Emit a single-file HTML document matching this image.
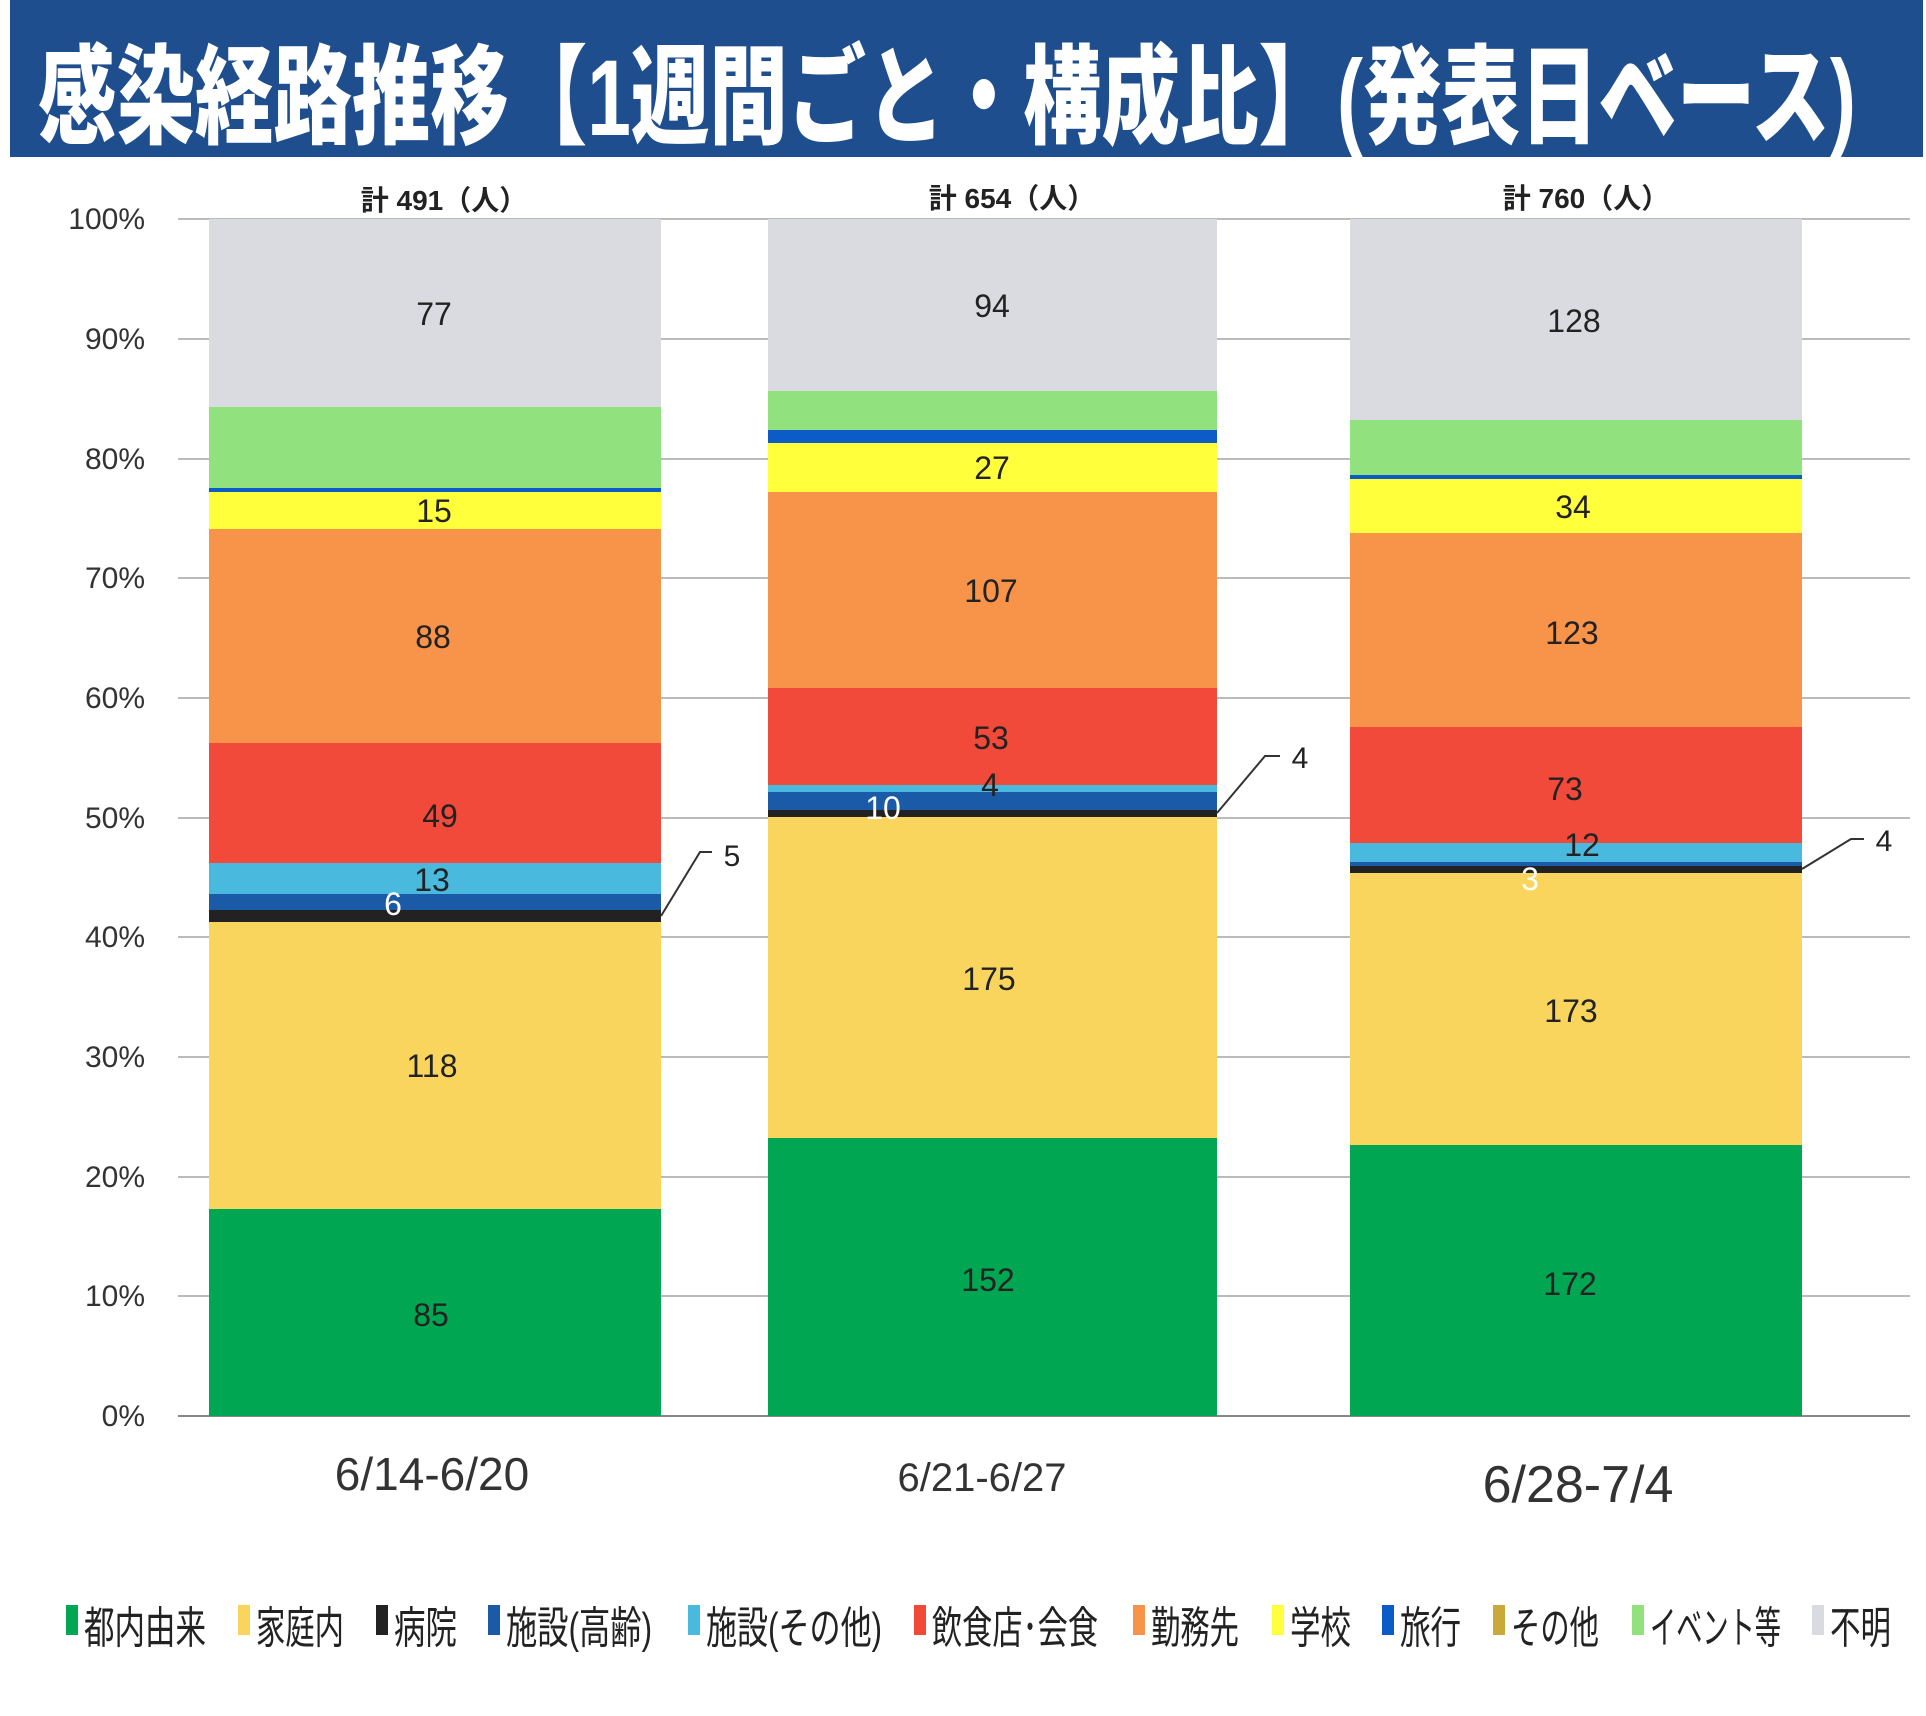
<!DOCTYPE html>
<html><head><meta charset="utf-8"><style>
html,body{margin:0;padding:0;background:#fff}
svg{display:block}
text{font-family:"Liberation Sans Narrow","Liberation Sans","Noto Sans CJK JP",sans-serif}
.j{font-family:"Liberation Sans","Noto Sans CJK JP",sans-serif}
.v{font-size:32px;fill:#222;text-anchor:middle}
.w{font-size:32px;fill:#fff;text-anchor:middle}
.ax{font-size:30px;fill:#333;text-anchor:end}
.lg{font-size:44px;fill:#222}
</style></head><body>
<svg width="1926" height="1716" viewBox="0 0 1926 1716" xmlns="http://www.w3.org/2000/svg">
<rect x="10" y="0" width="1913" height="157" fill="#1f4e8f"/>
<text class="j" x="38" y="135" font-size="108" font-weight="900" fill="#fff" textLength="1818" lengthAdjust="spacingAndGlyphs">感染経路推移【1週間ごと・構成比】(発表日ベース)</text>
<g stroke="#bbb" stroke-width="2">
<line x1="178" y1="219" x2="1910" y2="219"/><line x1="178" y1="339" x2="1910" y2="339"/>
<line x1="178" y1="459" x2="1910" y2="459"/><line x1="178" y1="578" x2="1910" y2="578"/>
<line x1="178" y1="698" x2="1910" y2="698"/><line x1="178" y1="818" x2="1910" y2="818"/>
<line x1="178" y1="937" x2="1910" y2="937"/><line x1="178" y1="1057" x2="1910" y2="1057"/>
<line x1="178" y1="1177" x2="1910" y2="1177"/><line x1="178" y1="1296" x2="1910" y2="1296"/>
<line x1="178" y1="1416" x2="1910" y2="1416" stroke="#888"/>
</g>
<g class="ax">
<text class="ax" x="145" y="229">100%</text><text class="ax" x="145" y="349">90%</text>
<text class="ax" x="145" y="469">80%</text><text class="ax" x="145" y="588">70%</text>
<text class="ax" x="145" y="708">60%</text><text class="ax" x="145" y="828">50%</text>
<text class="ax" x="145" y="947">40%</text><text class="ax" x="145" y="1067">30%</text>
<text class="ax" x="145" y="1187">20%</text><text class="ax" x="145" y="1306">10%</text>
<text class="ax" x="145" y="1426">0%</text>
</g>
<!-- Bar1 -->
<g>
<rect x="209" y="1209" width="452" height="207" fill="#00a651"/>
<rect x="209" y="922" width="452" height="287" fill="#fad55e"/>
<rect x="209" y="910" width="452" height="12" fill="#222"/>
<rect x="209" y="894" width="452" height="16" fill="#1a5aa6"/>
<rect x="209" y="863" width="452" height="31" fill="#4ab9de"/>
<rect x="209" y="743" width="452" height="120" fill="#f24a3a"/>
<rect x="209" y="529" width="452" height="214" fill="#f8934a"/>
<rect x="209" y="492" width="452" height="37" fill="#ffff3c"/>
<rect x="209" y="488" width="452" height="4" fill="#0b5cc7"/>
<rect x="209" y="407" width="452" height="81" fill="#92e17f"/>
<rect x="209" y="219" width="452" height="188" fill="#d9dbe0"/>
</g>
<!-- Bar2 -->
<g>
<rect x="768" y="1138" width="449" height="278" fill="#00a651"/>
<rect x="768" y="817" width="449" height="321" fill="#fad55e"/>
<rect x="768" y="810" width="449" height="7" fill="#222"/>
<rect x="768" y="792" width="449" height="18" fill="#1a5aa6"/>
<rect x="768" y="785" width="449" height="7" fill="#4ab9de"/>
<rect x="768" y="688" width="449" height="97" fill="#f24a3a"/>
<rect x="768" y="492" width="449" height="196" fill="#f8934a"/>
<rect x="768" y="443" width="449" height="49" fill="#ffff3c"/>
<rect x="768" y="430" width="449" height="13" fill="#0b5cc7"/>
<rect x="768" y="391" width="449" height="39" fill="#92e17f"/>
<rect x="768" y="219" width="449" height="172" fill="#d9dbe0"/>
</g>
<!-- Bar3 -->
<g>
<rect x="1350" y="1145" width="452" height="271" fill="#00a651"/>
<rect x="1350" y="873" width="452" height="272" fill="#fad55e"/>
<rect x="1350" y="866" width="452" height="7" fill="#222"/>
<rect x="1350" y="862" width="452" height="4" fill="#1a5aa6"/>
<rect x="1350" y="843" width="452" height="19" fill="#4ab9de"/>
<rect x="1350" y="727" width="452" height="116" fill="#f24a3a"/>
<rect x="1350" y="533" width="452" height="194" fill="#f8934a"/>
<rect x="1350" y="479" width="452" height="54" fill="#ffff3c"/>
<rect x="1350" y="475" width="452" height="4" fill="#0b5cc7"/>
<rect x="1350" y="420" width="452" height="55" fill="#92e17f"/>
<rect x="1350" y="219" width="452" height="201" fill="#d9dbe0"/>
</g>
<!-- totals -->
<text class="j" x="444" y="210" font-size="28" font-weight="bold" fill="#222" text-anchor="middle">計 491（人）</text>
<text class="j" x="1012" y="208" font-size="28" font-weight="bold" fill="#222" text-anchor="middle">計 654（人）</text>
<text class="j" x="1586" y="208" font-size="28" font-weight="bold" fill="#222" text-anchor="middle">計 760（人）</text>
<!-- labels -->
<text class="v" x="434" y="325">77</text><text class="v" x="434" y="522">15</text>
<text class="v" x="433" y="648">88</text><text class="v" x="440" y="827" font-size="40">49</text>
<text class="v" x="432" y="891">13</text><text class="w" x="393" y="915">6</text>
<text class="v" x="432" y="1077">118</text><text class="v" x="431" y="1326">85</text>
<text class="v" x="992" y="317">94</text><text class="v" x="992" y="479">27</text>
<text class="v" x="991" y="602">107</text><text class="v" x="991" y="749">53</text>
<text class="v" x="990" y="796" font-size="28">4</text><text class="w" x="883" y="819">10</text>
<text class="v" x="989" y="990">175</text><text class="v" x="988" y="1291">152</text>
<text class="v" x="1574" y="332">128</text><text class="v" x="1573" y="518">34</text>
<text class="v" x="1572" y="644">123</text><text class="v" x="1565" y="800" font-size="40">73</text>
<text class="v" x="1582" y="856">12</text><text class="w" x="1530" y="890">3</text>
<text class="v" x="1571" y="1022">173</text><text class="v" x="1570" y="1295">172</text>
<!-- callouts -->
<g stroke="#333" stroke-width="2" fill="none">
<polyline points="661,916 700,852 712,852"/>
<polyline points="1217,813 1265,756 1280,756"/>
<polyline points="1802,869 1851,839 1864,839"/>
</g>
<text x="732" y="866" font-size="30" fill="#222" text-anchor="middle">5</text>
<text x="1300" y="768" font-size="30" fill="#222" text-anchor="middle">4</text>
<text x="1884" y="851" font-size="30" fill="#222" text-anchor="middle">4</text>
<!-- x labels -->
<text x="432" y="1490" font-size="46" fill="#333" text-anchor="middle">6/14-6/20</text>
<text x="982" y="1491" font-size="40" fill="#333" text-anchor="middle">6/21-6/27</text>
<text x="1578" y="1502" font-size="52" fill="#333" text-anchor="middle">6/28-7/4</text>
<!-- legend -->
<g>
<rect x="66" y="1605" width="12" height="30" fill="#00a651"/>
<text class="lg j" x="84" y="1643" textLength="122" lengthAdjust="spacingAndGlyphs">都内由来</text>
<rect x="238" y="1605" width="12" height="30" fill="#fad55e"/>
<text class="lg j" x="256" y="1643" textLength="88" lengthAdjust="spacingAndGlyphs">家庭内</text>
<rect x="376" y="1605" width="12" height="30" fill="#222"/>
<text class="lg j" x="394" y="1643" textLength="63" lengthAdjust="spacingAndGlyphs">病院</text>
<rect x="488" y="1605" width="12" height="30" fill="#1a5aa6"/>
<text class="lg j" x="506" y="1643" textLength="146" lengthAdjust="spacingAndGlyphs">施設(高齢)</text>
<rect x="688" y="1605" width="12" height="30" fill="#4ab9de"/>
<text class="lg j" x="706" y="1643" textLength="176" lengthAdjust="spacingAndGlyphs">施設(その他)</text>
<rect x="914" y="1605" width="12" height="30" fill="#f24a3a"/>
<text class="lg j" x="932" y="1643" textLength="166" lengthAdjust="spacingAndGlyphs">飲食店･会食</text>
<rect x="1133" y="1605" width="12" height="30" fill="#f8934a"/>
<text class="lg j" x="1151" y="1643" textLength="88" lengthAdjust="spacingAndGlyphs">勤務先</text>
<rect x="1272" y="1605" width="12" height="30" fill="#ffff3c"/>
<text class="lg j" x="1290" y="1643" textLength="61" lengthAdjust="spacingAndGlyphs">学校</text>
<rect x="1382" y="1605" width="12" height="30" fill="#0b5cc7"/>
<text class="lg j" x="1400" y="1643" textLength="61" lengthAdjust="spacingAndGlyphs">旅行</text>
<rect x="1493" y="1605" width="12" height="30" fill="#c9a93a"/>
<text class="lg j" x="1511" y="1643" textLength="88" lengthAdjust="spacingAndGlyphs">その他</text>
<rect x="1632" y="1605" width="12" height="30" fill="#92e17f"/>
<text class="lg j" x="1650" y="1643" textLength="131" lengthAdjust="spacingAndGlyphs">イベント等</text>
<rect x="1812" y="1605" width="12" height="30" fill="#d9dbe0"/>
<text class="lg j" x="1830" y="1643" textLength="61" lengthAdjust="spacingAndGlyphs">不明</text>
</g>
</svg>
</body></html>
